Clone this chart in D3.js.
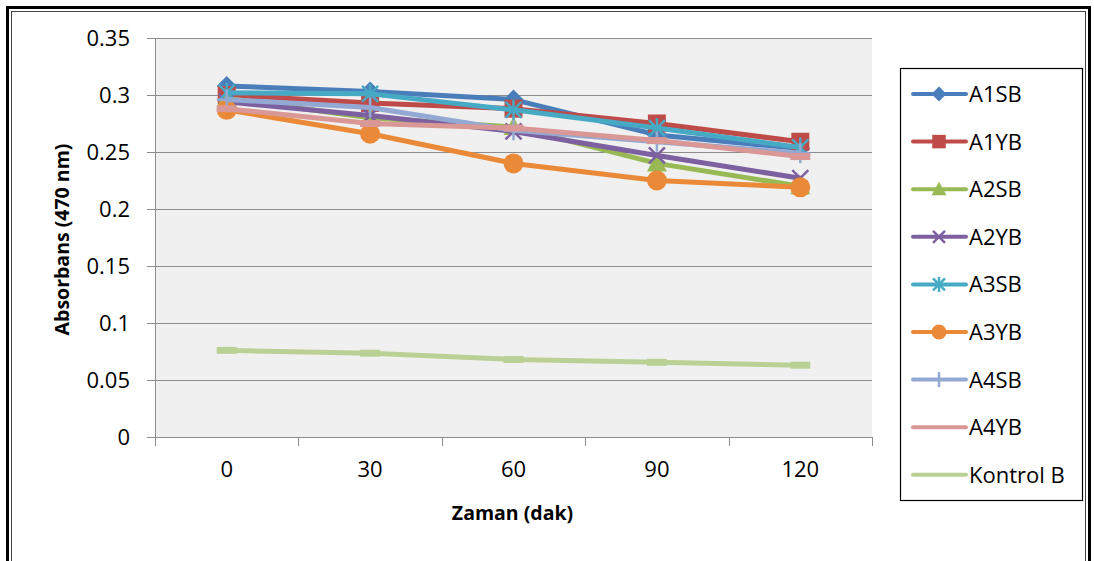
<!DOCTYPE html>
<html>
<head>
<meta charset="utf-8">
<script src="https://cdnjs.cloudflare.com/ajax/libs/d3/7.8.5/d3.min.js"></script>
<style>
  body { margin: 0; background: #fff; }
  svg text { font-family: "Open Sans", sans-serif; fill: #000; }
</style>
</head>
<body>
<div id="chart"></div>
<script>
var categories = ["0", "30", "60", "90", "120"];
var yTicks = [0, 0.05, 0.1, 0.15, 0.2, 0.25, 0.3, 0.35];
var seriesNames = ["A1SB", "A1YB", "A2SB", "A2YB", "A3SB", "A3YB", "A4SB", "A4YB", "Kontrol B"];
var A1SB = [0.308, 0.303, 0.296, 0.265, 0.253];
var A1YB = [0.300, 0.293, 0.288, 0.275, 0.259];
var A2SB = [0.297, 0.280, 0.272, 0.240, 0.220];
var A2YB = [0.294, 0.282, 0.268, 0.247, 0.227];
var A3SB = [0.302, 0.301, 0.287, 0.271, 0.254];
var A3YB = [0.287, 0.266, 0.240, 0.225, 0.219];
var A4SB = [0.296, 0.289, 0.269, 0.259, 0.249];
var A4YB = [0.288, 0.275, 0.271, 0.260, 0.246];
var KontrolB = [0.076, 0.0735, 0.068, 0.0655, 0.063];
var seriesValues = [A1SB, A1YB, A2SB, A2YB, A3SB, A3YB, A4SB, A4YB, KontrolB];
var colors = ["#4a7ebb", "#be4b48", "#98b954", "#7d60a0", "#46aac5", "#ea8a38", "#93a9d4", "#d99795", "#b9d194"];
var markers = ["diamond", "square", "triangle", "x", "star", "circle", "plus", "dash", "dash"];

var width = 1094, height = 561;
// plot area edges (note: "top" is reserved on window, so use other names)
var plotL = 155, plotR = 872, plotT = 38, plotB = 437;

var svg = d3.select("#chart").append("svg")
  .attr("width", width).attr("height", height);

// outer frame
svg.append("rect").attr("x", 7.5).attr("y", 7.5).attr("width", 1082).attr("height", 580)
  .attr("fill", "none").attr("stroke", "#000").attr("stroke-width", 3);
svg.append("rect").attr("x", 11.5).attr("y", 11.5).attr("width", 1074).attr("height", 580)
  .attr("fill", "none").attr("stroke", "#444").attr("stroke-width", 1);

var x = d3.scaleBand().domain(categories).range([plotL, plotR]).padding(0);
var y = d3.scaleLinear().domain([0, 0.35]).range([plotB, plotT]);

// plot area
svg.append("rect").attr("x", plotL).attr("y", plotT)
  .attr("width", plotR - plotL).attr("height", plotB - plotT).attr("fill", "#f0f0f0");

svg.append("g").selectAll("line").data(yTicks.filter(function(d) { return d > 0; }))
  .enter().append("line")
  .attr("x1", plotL).attr("x2", plotR)
  .attr("y1", function(d) { return Math.round(y(d)) + 0.5; })
  .attr("y2", function(d) { return Math.round(y(d)) + 0.5; })
  .attr("stroke", "#8c8c8c").attr("stroke-width", 1.2);

var yAxis = svg.append("g").attr("transform", "translate(" + plotL + ",0)")
  .call(d3.axisLeft(y).tickValues(yTicks).tickSize(8).tickSizeOuter(0).tickPadding(17)
    .tickFormat(function(d) { return String(d); }));
yAxis.select(".domain").attr("stroke", "#8c8c8c");
yAxis.selectAll(".tick line").attr("stroke", "#8c8c8c");
yAxis.selectAll("text").style("font-size", "22px").attr("fill", "#000");

var xAxis = svg.append("g").attr("transform", "translate(0," + plotB + ")")
  .call(d3.axisBottom(x).tickSize(0).tickPadding(24));
xAxis.select(".domain").attr("stroke", "#8c8c8c");
xAxis.selectAll("text").style("font-size", "22px").attr("fill", "#000");

// boundary ticks between categories
var edges = categories.map(function(c) { return x(c); }).concat([x(categories[categories.length - 1]) + x.bandwidth()]);
svg.append("g").selectAll("line").data(edges).enter().append("line")
  .attr("x1", function(d) { return Math.round(d) + 0.5; })
  .attr("x2", function(d) { return Math.round(d) + 0.5; })
  .attr("y1", plotB).attr("y2", plotB + 9)
  .attr("stroke", "#8c8c8c");

// axis titles
svg.append("text")
  .attr("transform", "translate(69," + ((plotT + plotB) / 2 + 2) + ") rotate(-90)")
  .attr("text-anchor", "middle")
  .style("font-size", "19.5px").style("font-weight", "bold")
  .text("Absorbans (470 nm)");
svg.append("text")
  .attr("x", (plotL + plotR) / 2 - 1).attr("y", 520)
  .attr("text-anchor", "middle")
  .style("font-size", "19.5px").style("font-weight", "bold")
  .text("Zaman (dak)");

function drawMarker(g, type, color, s) {
  var h = s / 2;
  if (type === "diamond") {
    g.append("path").attr("d", "M0," + (-h) + "L" + h + ",0L0," + h + "L" + (-h) + ",0Z").attr("fill", color);
  } else if (type === "square") {
    g.append("rect").attr("x", -h * 0.9).attr("y", -h * 0.9).attr("width", s * 0.9).attr("height", s * 0.9).attr("fill", color);
  } else if (type === "triangle") {
    g.append("path").attr("d", "M0," + (-h) + "L" + h + "," + (h * 0.8) + "L" + (-h) + "," + (h * 0.8) + "Z").attr("fill", color);
  } else if (type === "circle") {
    g.append("circle").attr("r", h).attr("fill", color);
  } else if (type === "x" || type === "star" || type === "plus") {
    var k = h * 0.8;
    var segs = [];
    if (type !== "plus") segs.push([-k, -k, k, k], [-k, k, k, -k]);
    if (type !== "x") segs.push([0, -h, 0, h]);
    if (type === "plus") segs.push([-h, 0, h, 0]);
    segs.forEach(function(p) {
      g.append("line").attr("x1", p[0]).attr("y1", p[1]).attr("x2", p[2]).attr("y2", p[3])
        .attr("stroke", color).attr("stroke-width", 2.5);
    });
  } else if (type === "dash") {
    g.append("rect").attr("x", -h).attr("y", -3.5).attr("width", s).attr("height", 7).attr("fill", color);
  }
}

var line = d3.line()
  .x(function(d, i) { return x(categories[i]) + x.bandwidth() / 2; })
  .y(function(d) { return y(d); });

seriesValues.forEach(function(vals, si) {
  var g = svg.append("g");
  g.append("path").datum(vals).attr("d", line)
    .attr("fill", "none").attr("stroke", colors[si]).attr("stroke-width", 5)
    .attr("stroke-linejoin", "round").attr("stroke-linecap", "round");
  vals.forEach(function(v, i) {
    var m = g.append("g").attr("transform", "translate(" + (x(categories[i]) + x.bandwidth() / 2) + "," + y(v) + ")");
    drawMarker(m, markers[si], colors[si], 20);
  });
});

// legend
var legX = 900, legY = 68;
svg.append("rect").attr("x", legX + 0.5).attr("y", legY + 0.5).attr("width", 182).attr("height", 432)
  .attr("fill", "#fff").attr("stroke", "#000").attr("stroke-width", 1.2);
seriesNames.forEach(function(name, i) {
  var cy = 94 + i * 47.6;
  var g = svg.append("g").attr("transform", "translate(0," + cy + ")");
  g.append("line").attr("x1", 913).attr("x2", 966).attr("y1", 0).attr("y2", 0)
    .attr("stroke", colors[i]).attr("stroke-width", 4).attr("stroke-linecap", "round");
  var m = g.append("g").attr("transform", "translate(939,0)");
  if (markers[i] !== "dash") drawMarker(m, markers[i], colors[i], 15);
  g.append("text").attr("x", 969).attr("y", 0).attr("dy", "0.36em")
    .style("font-size", "22px").text(name);
});
</script>
</body>
</html>
